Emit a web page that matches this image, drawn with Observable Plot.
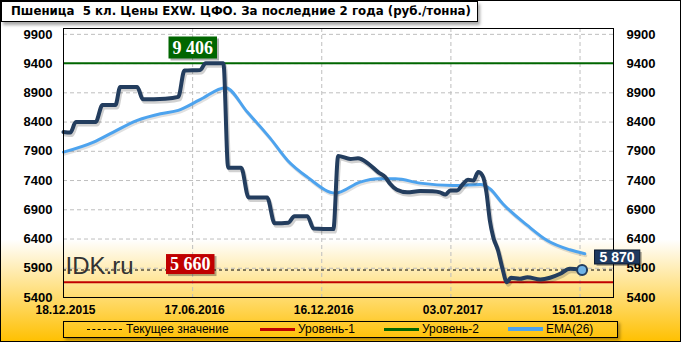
<!DOCTYPE html>
<html>
<head>
<meta charset="utf-8">
<script src="https://cdn.jsdelivr.net/npm/d3@7"></script>
<script src="https://cdn.jsdelivr.net/npm/@observablehq/plot@0.6"></script>
<style>
  body { margin: 0; }
  #wrap { position: relative; width: 681px; height: 342px; overflow: hidden;
    background: linear-gradient(to bottom, #ffffff 0%, #ffffff 70%, #FFC000 100%);
    font-family: "Liberation Sans", Arial, sans-serif; }
  #wrap svg { position: absolute; left: 0; top: 0; }
  #border { position: absolute; left: 0; top: 0; width: 679px; height: 340px; border: 1px solid #000; pointer-events: none; }
  #title { position: absolute; left: 1px; top: 1px; width: 477px; height: 21px; box-sizing: border-box;
    background: #fff; border: 1px solid #000; box-shadow: 2px 3px 3px rgba(0,0,0,0.35);
    font: bold 11.8px "DejaVu Sans", sans-serif; line-height: 19px; padding-left: 9px; white-space: nowrap; color: #000; }
  #legend { position: absolute; left: 63px; top: 321px; width: 555px; height: 17px; box-sizing: border-box;
    border: 1px solid #000; box-shadow: 2px 2px 3px rgba(0,0,0,0.35); font-size: 12px; color: #000; }
  #legend .sw { position: absolute; top: 7px; width: 35px; height: 0; }
  #legend .tx { position: absolute; top: 0px; line-height: 15px; white-space: nowrap; }
</style>
</head>
<body>
<div id="wrap">
  <div id="title">Пшеница&nbsp; 5 кл. Цены EXW. ЦФО. За последние 2 года (руб./тонна)</div>
  <div id="legend">
    <div class="sw" style="left:23px;border-top:1px dashed #000;"></div><div class="tx" style="left:62px;">Текущее значение</div>
    <div class="sw" style="left:196px;border-top:3px solid #C00000;top:6px;"></div><div class="tx" style="left:234px;">Уровень-1</div>
    <div class="sw" style="left:320px;border-top:3px solid #006600;top:6px;"></div><div class="tx" style="left:358px;">Уровень-2</div>
    <div class="sw" style="left:444px;border-top:4px solid #4DA3EE;top:5px;"></div><div class="tx" style="left:482px;">EMA(26)</div>
  </div>
  <div id="border"></div>
</div>
<script>
// ---- data ----
const priceDates = ["2015-12-18","2015-12-28","2016-01-05","2016-02-03","2016-02-13","2016-03-03","2016-03-10","2016-04-04","2016-04-12","2016-05-15","2016-06-03","2016-06-12","2016-07-05","2016-07-13","2016-08-08","2016-08-15","2016-09-03","2016-09-14","2016-10-11","2016-10-22","2016-11-11","2016-11-20","2016-12-09","2016-12-18","2017-01-16","2017-01-23","2017-02-10","2017-02-21","2017-03-08","2017-03-23","2017-04-02","2017-04-09","2017-04-19","2017-05-04","2017-05-23","2017-06-10","2017-06-21","2017-06-29","2017-07-06","2017-07-16","2017-07-25","2017-08-01","2017-08-09","2017-08-16","2017-08-22","2017-08-28","2017-09-02","2017-09-07","2017-09-14","2017-09-20","2017-09-27","2017-10-03","2017-10-16","2017-10-27","2017-11-15","2017-11-29","2017-12-14","2017-12-28","2018-01-15"];
const priceValues = [8230,8220,8400,8400,8690,8690,9000,9000,8790,8800,8830,9280,9290,9406,9406,7620,7620,7110,7110,6670,6680,6790,6790,6580,6570,7820,7770,7780,7690,7540,7460,7345,7243,7200,7220,7215,7197,7162,7231,7231,7345,7414,7400,7544,7490,7200,6718,6432,6204,5918,5662,5737,5720,5747,5708,5737,5806,5891,5870];
const emaDates = ["2015-12-18","2016-01-31","2016-02-29","2016-04-04","2016-05-08","2016-06-03","2016-07-05","2016-08-11","2016-09-12","2016-10-16","2016-11-10","2016-12-09","2017-01-19","2017-02-24","2017-03-23","2017-04-17","2017-05-23","2017-07-10","2017-08-19","2017-09-02","2017-09-21","2017-10-27","2017-11-25","2017-12-28","2018-01-19"];
const emaValues = [7886,8057,8229,8429,8543,8600,8783,8988,8571,8116,7744,7458,7185,7373,7431,7431,7356,7316,7334,7260,7003,6632,6375,6216,6148];
const level1 = 5660;
const level2 = 9406;
const currentValue = 5870;
const yTicks = [5400,5900,6400,6900,7400,7900,8400,8900,9400,9900];
const xTickLabels = ["18.12.2015","17.06.2016","16.12.2016","03.07.2017","15.01.2018"];
const xTickDates = ["2015-12-18","2016-06-24","2016-12-30","2017-07-07","2018-01-12"];
const xDomain = ["2015-12-18","2018-03-02"];

// ---- tables ----
const D = s => new Date(s);
const price = priceDates.map((d, i) => ({date: D(d), value: priceValues[i]}));
const ema = emaDates.map((d, i) => ({date: D(d), value: emaValues[i]}));
const last = price[price.length - 1];
const xLabels = xTickDates.map((d, i) => ({date: D(d), label: xTickLabels[i]}));
const fmt = v => d3.format(",")(v).replace(/,/g, " ");

const NAVY = "#233D5E";

const chart = Plot.plot({
  width: 681, height: 342,
  marginLeft: 63, marginRight: 68, marginTop: 28, marginBottom: 45,
  style: {background: "transparent", fontFamily: "Liberation Sans, Arial, sans-serif", overflow: "visible"},
  x: {type: "utc", domain: xDomain.map(D), axis: null},
  y: {domain: [5400, 10000], axis: null},
  marks: [
    Plot.gridY(yTicks, {stroke: "#BEBEBE", strokeOpacity: 1, strokeDasharray: "4,3"}),
    Plot.gridX(xTickDates.slice(1).map(D), {stroke: "#BEBEBE", strokeOpacity: 1, strokeDasharray: "4,3"}),
    Plot.axisY(yTicks, {anchor: "left", tickSize: 0, tickPadding: 11, tickFormat: d => String(d), fontSize: 13, fontWeight: "bold", fill: "#000"}),
    Plot.axisY(yTicks, {anchor: "right", tickSize: 0, tickPadding: 13, tickFormat: d => String(d), fontSize: 13, fontWeight: "bold", fill: "#000"}),
    Plot.text(xLabels, {x: "date", text: "label", frameAnchor: "bottom", lineAnchor: "top", dy: 8, dx: 2, fontSize: 12, fontWeight: "bold", fill: "#000"}),
    Plot.ruleY([currentValue], {stroke: "#000", strokeWidth: 1, strokeDasharray: "3,3"}),
    Plot.ruleY([level1], {stroke: "#C00000", strokeWidth: 2}),
    Plot.ruleY([level2], {stroke: "#006600", strokeWidth: 2}),
    Plot.line(ema, {x: "date", y: "value", stroke: "#000", strokeOpacity: 0.12, strokeWidth: 3, dx: 1, dy: 2, curve: "monotone-x"}),
    Plot.line(ema, {x: "date", y: "value", stroke: "#4DA3EE", strokeWidth: 3, curve: "monotone-x"}),
    Plot.line(price, {x: "date", y: "value", stroke: "#000", strokeOpacity: 0.18, strokeWidth: 4, dx: 1.5, dy: 2.5, curve: "monotone-x"}),
    Plot.line(price, {x: "date", y: "value", stroke: NAVY, strokeWidth: 4, curve: "monotone-x", strokeLinejoin: "round"}),
    Plot.dot([last], {x: "date", y: "value", r: 5, fill: "#6FB3E6", stroke: NAVY, strokeWidth: 2}),
    Plot.frame({stroke: "#000", strokeWidth: 1}),
    Plot.text([{v: currentValue}], {y: "v", frameAnchor: "left", dx: 2, dy: -4, textAnchor: "start", text: () => "IDK.ru", fontSize: 24, fill: "#333"}),
    Plot.text([{v: level2}], {y: "v", frameAnchor: "left", dx: 109, dy: -15.5, text: d => fmt(d.v), fontSize: 18, fontWeight: "bold", fontFamily: "Liberation Serif, serif", fill: "#fff"}),
    Plot.text([{v: level1}], {y: "v", frameAnchor: "left", dx: 106.5, dy: -18, text: d => fmt(d.v), fontSize: 18, fontWeight: "bold", fontFamily: "Liberation Serif, serif", fill: "#fff"}),
    Plot.text([last], {x: "date", y: "value", dx: 35, dy: -12.5, text: d => fmt(d.value), fontSize: 14, fontWeight: "bold", fill: "#fff"})
  ]
});

const wrap = document.getElementById("wrap");
wrap.insertBefore(chart, document.getElementById("title"));

// boxes behind annotation labels (matched by their text)
const boxStyles = new Map([
  [fmt(level2), {fill: "#006600", stroke: null, px: 4, py: 1}],
  [fmt(level1), {fill: "#C00000", stroke: null, px: 4, py: 0}],
  [fmt(currentValue), {fill: "#1F3A5F", stroke: "#0B1A2E", px: 5, py: -1}]
]);
chart.querySelectorAll("text").forEach(t => {
  const s = boxStyles.get(t.textContent.trim());
  if (!s) return;
  const b = t.getBBox();
  const ns = "http://www.w3.org/2000/svg";
  const sh = document.createElementNS(ns, "rect");
  sh.setAttribute("x", b.x - s.px + 2); sh.setAttribute("y", b.y - s.py + 2);
  sh.setAttribute("width", b.width + 2 * s.px); sh.setAttribute("height", b.height + 2 * s.py);
  sh.setAttribute("fill", "rgba(0,0,0,0.3)");
  const r = document.createElementNS(ns, "rect");
  r.setAttribute("x", b.x - s.px); r.setAttribute("y", b.y - s.py);
  r.setAttribute("width", b.width + 2 * s.px); r.setAttribute("height", b.height + 2 * s.py);
  r.setAttribute("fill", s.fill);
  if (s.stroke) r.setAttribute("stroke", s.stroke);
  if (t.getAttribute("transform")) { sh.setAttribute("transform", t.getAttribute("transform")); r.setAttribute("transform", t.getAttribute("transform")); }
  t.parentNode.insertBefore(sh, t);
  t.parentNode.insertBefore(r, t);
});
</script>
</body>
</html>
